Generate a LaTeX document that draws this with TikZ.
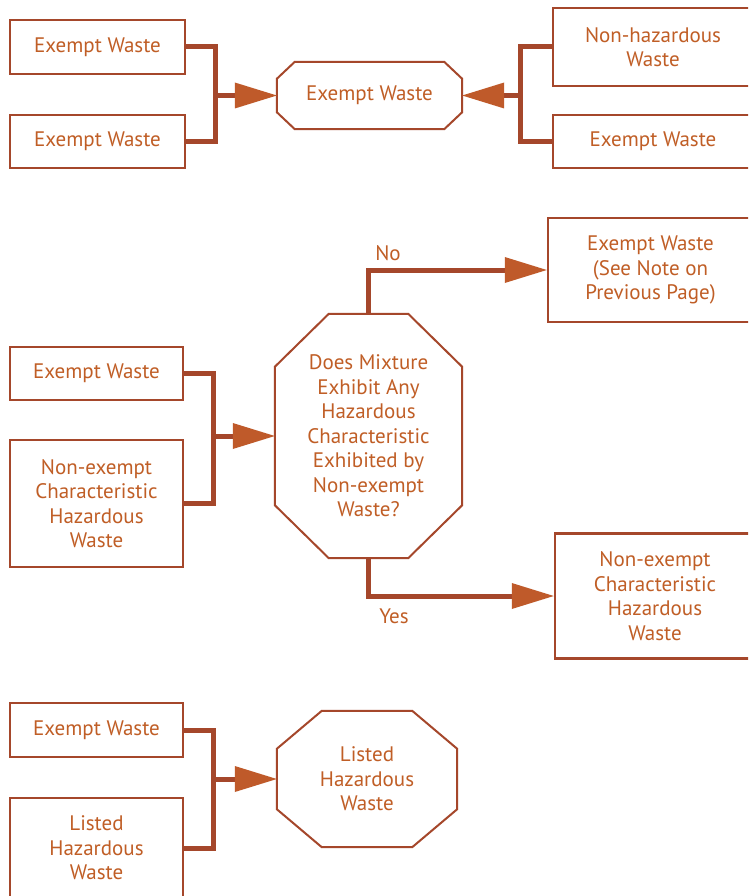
\documentclass[tikz,border=0pt]{standalone}
\usepackage{fontspec}
\setmainfont{PT Sans}
\usetikzlibrary{calc,arrows.meta}
\definecolor{txt}{HTML}{C05E26}
\definecolor{ln}{HTML}{A5472B}
\definecolor{arr}{HTML}{BF5A2A}
\newcommand\octpath[3]{%
  \draw[octline] ($(#1.north west)+(#2,0)$) -- ($(#1.north east)+(-#2,0)$)
    -- ($(#1.north east)+(0,#3)$) -- ($(#1.south east)+(0,-#3)$)
    -- ($(#1.south east)+(-#2,0)$) -- ($(#1.south west)+(#2,0)$)
    -- ($(#1.south west)+(0,-#3)$) -- ($(#1.north west)+(0,#3)$) -- cycle;}
\begin{document}
\begin{tikzpicture}[x=1pt,y=-1pt,
  txtfont/.style={font=\fontsize{21}{24.5}\selectfont},
  box/.style={draw=ln, line width=2.5pt, text=txt, align=center, inner sep=0pt, txtfont},
  octnode/.style={draw=none, text=txt, align=center, inner sep=0pt, txtfont},
  octline/.style={draw=ln, line width=2pt, line join=miter},
  conn/.style={draw=ln, line width=5pt},
  tip/.style={-{Triangle[length=42pt,width=26pt,line width=0pt,fill=arr]}},
  lbl/.style={text=txt, inner sep=0pt, txtfont}]
\useasboundingbox (0,0) rectangle (748,896);
\clip (0,0) rectangle (748,896);
\fill[white] (0,0) rectangle (748,896);
% ---------- top ----------
\node[box, minimum width=175pt, minimum height=54pt] (a1) at (97.5,47) {Exempt Waste};
\node[box, minimum width=175pt, minimum height=53pt] (a2) at (97.5,141.5) {Exempt Waste};
\node[octnode, minimum width=185pt, minimum height=67pt] (o1) at (369.5,95.5) {Exempt Waste};
\octpath{o1}{18}{17}
\node[box, minimum width=200pt, minimum height=78pt] (b1) at (653,47) {Non-hazardous\\Waste};
\node[box, minimum width=200pt, minimum height=53pt] (b2) at (653,141.5) {Exempt Waste};
\coordinate (j1) at (215,95.5);
\coordinate (k1) at (520,95.5);
\draw[conn] (a1.east) -| (j1) |- (a2.east);
\draw[conn, tip] (j1) -- (o1.west);
\draw[conn] (b1.west) -| (k1) |- (b2.west);
\draw[conn, tip] (k1) -- (o1.east);
% ---------- middle ----------
\node[box, minimum width=173pt, minimum height=53pt] (c1) at (96.5,373.5) {Exempt Waste};
\node[box, minimum width=173pt, minimum height=127pt] (c2) at (96.5,503.5) {Non-exempt\\Characteristic\\Hazardous\\Waste};
\node[octnode, minimum width=187pt, minimum height=244pt] (o2) at (368.5,436) {Does Mixture\\Exhibit Any\\Hazardous\\Characteristic\\Exhibited by\\Non-exempt\\Waste?};
\octpath{o2}{54}{53}
\node[box, minimum width=205pt, minimum height=104pt] (d1) at (650.5,270) {Exempt Waste\\(See Note on\\Previous Page)};
\node[box, minimum width=200pt, minimum height=125pt] (d2) at (655,596) {Non-exempt\\Characteristic\\Hazardous\\Waste};
\coordinate (j2) at (213,436);
\draw[conn] (c1.east) -| (j2) |- (c2.east);
\draw[conn, tip] (j2) -- (o2.west);
\draw[conn, tip] (o2.north) |- (d1.west);
\draw[conn, tip] (o2.south) |- (d2.west);
\node[lbl] (no) at (388,253) {No};
\node[lbl] (yes) at (394,616) {Yes};
% ---------- bottom ----------
\node[box, minimum width=173pt, minimum height=54pt] (e1) at (96.5,730) {Exempt Waste};
\node[box, minimum width=173pt, minimum height=100pt] (e2) at (96.5,848) {Listed\\Hazardous\\Waste};
\node[octnode, minimum width=180pt, minimum height=136pt] (o3) at (367,779) {Listed\\Hazardous\\Waste};
\octpath{o3}{45}{38}
\coordinate (j3) at (213,779);
\draw[conn] (e1.east) -| (j3) |- (e2.east);
\draw[conn, tip] (j3) -- (o3.west);
\end{tikzpicture}
\end{document}
